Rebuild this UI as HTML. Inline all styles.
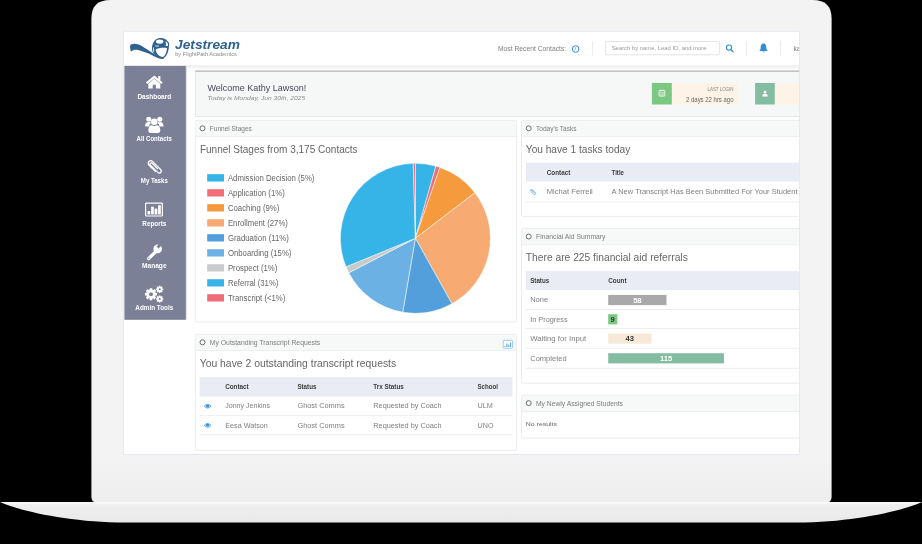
<!DOCTYPE html>
<html>
<head>
<meta charset="utf-8">
<title>Jetstream Dashboard</title>
<style>
html,body{margin:0;padding:0;background:#000;}
body{width:922px;height:544px;overflow:hidden;font-family:"Liberation Sans",sans-serif;}
svg{display:block;will-change:transform;}
text{font-family:"Liberation Sans",sans-serif;}
.b{font-weight:bold;}
.i{font-style:italic;}
</style>
</head>
<body>
<svg width="922" height="544" viewBox="0 0 922 544">
<defs>
<linearGradient id="lidg" x1="0" y1="0" x2="0" y2="1">
<stop offset="0" stop-color="#f3f3f3"/><stop offset="0.9" stop-color="#f3f3f3"/><stop offset="1" stop-color="#eeeeee"/>
</linearGradient>
<linearGradient id="baseg" x1="0" y1="0" x2="0" y2="1">
<stop offset="0" stop-color="#f9f9f9"/><stop offset="0.07" stop-color="#f7f7f7"/><stop offset="0.14" stop-color="#efefef"/><stop offset="1" stop-color="#e9e9e9"/>
</linearGradient>
<linearGradient id="hdsh" x1="0" y1="0" x2="0" y2="1">
<stop offset="0" stop-color="#ececec"/><stop offset="1" stop-color="#ffffff"/>
</linearGradient>
<linearGradient id="sbsh" x1="0" y1="0" x2="1" y2="0"><stop offset="0" stop-color="#c4c6cf"/><stop offset="1" stop-color="#ffffff"/></linearGradient>
<clipPath id="scr"><rect x="123.5" y="31.3" width="676" height="423.3"/></clipPath>
</defs>
<rect width="922" height="544" fill="#000"/>
<!-- laptop lid -->
<path d="M91.4,19 C91.4,6 97.4,0 110.4,0 H812.6 C825.6,0 831.6,6 831.6,19 V497 Q831.6,502.5 826,502.5 H97 Q91.4,502.5 91.4,497 Z" fill="url(#lidg)"/>
<rect x="98" y="500" width="727" height="3.5" fill="#eeeeee"/>
<!-- laptop base -->
<path d="M0,502 H922 C902,511 852,522.5 797,522.5 H125 C70,522.5 20,511 0,502 Z" fill="url(#baseg)"/>
<!-- screen -->
<g clip-path="url(#scr)" id="screen">
<rect x="123" y="31" width="678" height="425" fill="#ffffff"/>
<rect x="123" y="31" width="678" height="34.4" fill="#ffffff"/>
<rect x="186" y="65.4" width="615" height="4.6" fill="url(#hdsh)"/>
<g id="logo" fill="#2e6290">
<path d="M133,43.9 C136.5,43.6 139.5,44.8 142.5,46.5 C146,48.5 148,50 151,52 C154,54 156.5,56 159,57 C160.5,57.6 162,57.9 163.6,57.9 L163.4,58.9 C160,58.9 157,57.7 154,56.2 C150.5,54.4 148,53.1 145,52.3 C142,51.3 139.5,50.1 136.8,49.8 C134.5,49.6 132.5,50.1 131,51.7 C130.2,49 129.8,46.8 130.3,45 C131,44.3 132,44 133,43.9 Z"/>
<path d="M152.1,50 C151.4,44 154.5,38.1 160.5,38 C164,37.9 166.4,39.4 167.6,41.2 C169.2,42.2 169.6,44.6 168.9,46.8 C168.6,52 166.5,57.2 163,58.4 C159,58.7 153.3,56 152.1,50 Z"/>
<ellipse cx="159.7" cy="41.6" rx="3.7" ry="2.2" fill="#fff"/>
<path d="M155.7,49.4 C157.4,47.8 164.6,47.2 166.9,48 C166.9,51.4 165.6,55.4 163.1,56.9 C159.6,56.9 156.1,53.8 155.7,49.4 Z" fill="#fff"/>
<path d="M165.3,41.4 C167,41.3 168.4,43.3 168,46 L165.6,46 C166.2,44.3 166.1,42.7 165.3,41.4 Z" fill="#fff"/>
<path d="M152.9,47.6 L154,47.4 L154.3,52.6 L153.4,52 C153,50.6 152.8,49 152.9,47.6 Z" fill="#fff" opacity="0.8"/>
<rect x="155.2" y="45.3" width="3.8" height="1.5" fill="#a9b5c2"/>
</g>
<text x="175" y="49.3" font-size="12" fill="#2e6290" textLength="65" lengthAdjust="spacingAndGlyphs" class="b i">Jetstream</text>
<text x="175.2" y="56.1" font-size="5.6" fill="#8a8a8a" textLength="61.6" lengthAdjust="spacingAndGlyphs">by FlightPath Academics</text>
<text x="497.9" y="50.7" font-size="6.6" fill="#808080" textLength="68.3" lengthAdjust="spacingAndGlyphs">Most Recent Contacts:</text>
<circle cx="575.6" cy="49" r="3.3" fill="none" stroke="#2f8fd6" stroke-width="1"/>
<path d="M575.6,47.3 V49.2 L574.4,50.1" stroke="#2f8fd6" stroke-width="0.6" fill="none"/>
<rect x="592.2" y="41" width="0.8" height="14.5" fill="#e6e6e6"/>
<rect x="605.4" y="41.5" width="114.2" height="13.3" rx="1.5" fill="#fff" stroke="#d8d8d8" stroke-width="0.7"/>
<text x="611.7" y="50.2" font-size="6" fill="#9a9a9a" textLength="94.8" lengthAdjust="spacingAndGlyphs">Search by name, Lead ID, and more</text>
<circle cx="729" cy="47.6" r="2.6" fill="none" stroke="#2f8fd6" stroke-width="1.1"/>
<path d="M730.9,49.6 L733,51.7" stroke="#2f8fd6" stroke-width="1.3" stroke-linecap="round"/>
<rect x="746" y="41" width="0.8" height="14.5" fill="#e6e6e6"/>
<path d="M763.5,43.6 C765.6,43.6 766.3,45.6 766.3,47.4 C766.3,49.2 767,50.2 767.8,50.9 H759.2 C760,50.2 760.7,49.2 760.7,47.4 C760.7,45.6 761.4,43.6 763.5,43.6 Z M762.5,51.4 H764.5 C764.5,52.6 762.5,52.6 762.5,51.4 Z" fill="#2f8fd6"/>
<rect x="780.2" y="41" width="0.8" height="14.5" fill="#e6e6e6"/>
<text x="793.4" y="50.6" font-size="6.6" fill="#777">kat</text>
<rect x="124.4" y="65.8" width="61.5" height="254" fill="#7b8096"/>
<rect x="185.9" y="65.8" width="1.3" height="254" fill="url(#sbsh)"/>
<g fill="#ffffff">
<path d="M154.3,75.6 L162.7,82.6 L161.4,84.1 L154.3,78.2 L147.2,84.1 L145.9,82.6 Z"/>
<path d="M154.3,78.7 L160.3,83.7 V88.4 H155.9 V84.8 H152.7 V88.4 H148.3 V83.7 Z"/>
<rect x="158.2" y="76.1" width="2.2" height="4.4"/>
</g>
<text x="154.3" y="98.7" font-size="6.6" fill="#ffffff" textLength="33.8" lengthAdjust="spacingAndGlyphs" class="b" text-anchor="middle">Dashboard</text>
<g fill="#ffffff">
<circle cx="148.8" cy="119.2" r="2.5"/><circle cx="159.8" cy="119.2" r="2.5"/>
<path d="M145.1,126.2 C145.1,123 146.3,122 148.9,122 C150,122 150.8,122.3 151.3,122.8 C150,123.6 149.3,125 149.2,126.4 H145.1 Z"/>
<path d="M163.5,126.2 C163.5,123 162.3,122 159.7,122 C158.6,122 157.8,122.3 157.3,122.8 C158.6,123.6 159.3,125 159.4,126.4 H163.5 Z"/>
<circle cx="154.3" cy="121.7" r="3.3"/>
<path d="M148.3,130.6 C148.3,127 149.8,125.3 152,125.3 C152.8,125.8 153.5,126 154.3,126 C155.1,126 155.8,125.8 156.6,125.3 C158.8,125.3 160.3,127 160.3,130.6 C160.3,132.2 159.4,132.9 158.2,132.9 H150.4 C149.2,132.9 148.3,132.2 148.3,130.6 Z"/>
</g>
<text x="154.3" y="141.1" font-size="6.6" fill="#ffffff" textLength="35.4" lengthAdjust="spacingAndGlyphs" class="b" text-anchor="middle">All Contacts</text>
<g fill="none" stroke="#ffffff" stroke-width="1.25" stroke-linecap="round" stroke-linejoin="round">
<path transform="translate(0.3,2.3)" d="M157.2,166.3 L151.9,161 C150.7,159.8 148.9,161.6 150.1,162.8 L157.4,170.1 C159.4,172.1 162.3,169.2 160.3,167.2 L152.4,159.3 C149.8,156.7 146.2,160.3 148.8,162.9 L155,169.1"/>
</g>
<text x="154.3" y="183.3" font-size="6.6" fill="#ffffff" textLength="27" lengthAdjust="spacingAndGlyphs" class="b" text-anchor="middle">My Tasks</text>
<g fill="#ffffff">
<path d="M146.4,202.6 H161.6 Q163,202.6 163,204 V215.2 Q163,216.6 161.6,216.6 H146.4 Q145,216.6 145,215.2 V204 Q145,202.6 146.4,202.6 Z M146.2,203.8 V215.4 H161.8 V203.8 Z" fill-rule="evenodd"/>
<rect x="147.5" y="211" width="2.7" height="3.5"/><rect x="151.1" y="206.6" width="2.7" height="7.9"/><rect x="154.6" y="208.6" width="2.7" height="5.9"/><rect x="158.1" y="205.2" width="2.7" height="9.3"/>
</g>
<text x="154.3" y="225.6" font-size="6.6" fill="#ffffff" textLength="24" lengthAdjust="spacingAndGlyphs" class="b" text-anchor="middle">Reports</text>
<g>
<path d="M156.2,251.2 L148.6,258.6" stroke="#ffffff" stroke-width="3.3" stroke-linecap="round"/>
<circle cx="157.7" cy="248.9" r="4.3" fill="#ffffff"/>
<path d="M158.6,248.4 L162.6,244.2 L160.2,242.4 L156.6,246.6 Z" fill="#7b8096"/>
<path d="M162.9,246.2 L161.2,248 L163.4,249.6 Z" fill="#7b8096" opacity="0.5"/>
<circle cx="148.9" cy="258.3" r="0.75" fill="#7b8096"/>
</g>
<text x="154.3" y="267.8" font-size="6.6" fill="#ffffff" textLength="24.5" lengthAdjust="spacingAndGlyphs" class="b" text-anchor="middle">Manage</text>
<g fill="#ffffff">
<path d="M157.06,292.90 L157.06,295.50 L155.50,295.55 L155.14,296.43 L156.21,297.56 L154.36,299.41 L153.23,298.34 L152.35,298.70 L152.30,300.26 L149.70,300.26 L149.65,298.70 L148.77,298.34 L147.64,299.41 L145.79,297.56 L146.86,296.43 L146.50,295.55 L144.94,295.50 L144.94,292.90 L146.50,292.85 L146.86,291.97 L145.79,290.84 L147.64,288.99 L148.77,290.06 L149.65,289.70 L149.70,288.14 L152.30,288.14 L152.35,289.70 L153.23,290.06 L154.36,288.99 L156.21,290.84 L155.14,291.97 L155.50,292.85 Z M153.00,294.20 A2.0,2.0 0 1,0 149.00,294.20 A2.0,2.0 0 1,0 153.00,294.20 Z" fill-rule="evenodd"/>
<path d="M163.32,288.52 L163.32,290.08 L162.29,290.07 L162.08,290.58 L162.81,291.31 L161.71,292.41 L160.98,291.68 L160.47,291.89 L160.48,292.92 L158.92,292.92 L158.93,291.89 L158.42,291.68 L157.69,292.41 L156.59,291.31 L157.32,290.58 L157.11,290.07 L156.08,290.08 L156.08,288.52 L157.11,288.53 L157.32,288.02 L156.59,287.29 L157.69,286.19 L158.42,286.92 L158.93,286.71 L158.92,285.68 L160.48,285.68 L160.47,286.71 L160.98,286.92 L161.71,286.19 L162.81,287.29 L162.08,288.02 L162.29,288.53 Z M160.70,289.30 A1.0,1.0 0 1,0 158.70,289.30 A1.0,1.0 0 1,0 160.70,289.30 Z" fill-rule="evenodd"/>
<path d="M163.32,298.22 L163.32,299.78 L162.29,299.77 L162.08,300.28 L162.81,301.01 L161.71,302.11 L160.98,301.38 L160.47,301.59 L160.48,302.62 L158.92,302.62 L158.93,301.59 L158.42,301.38 L157.69,302.11 L156.59,301.01 L157.32,300.28 L157.11,299.77 L156.08,299.78 L156.08,298.22 L157.11,298.23 L157.32,297.72 L156.59,296.99 L157.69,295.89 L158.42,296.62 L158.93,296.41 L158.92,295.38 L160.48,295.38 L160.47,296.41 L160.98,296.62 L161.71,295.89 L162.81,296.99 L162.08,297.72 L162.29,298.23 Z M160.70,299.00 A1.0,1.0 0 1,0 158.70,299.00 A1.0,1.0 0 1,0 160.70,299.00 Z" fill-rule="evenodd"/>
</g>
<text x="154.3" y="310" font-size="6.6" fill="#ffffff" textLength="38" lengthAdjust="spacingAndGlyphs" class="b" text-anchor="middle">Admin Tools</text>
<rect x="195.2" y="70.4" width="620" height="46.2" fill="#f6f8f8"/>
<rect x="195.2" y="70.4" width="620" height="1.5" fill="#bdbfc0"/>
<rect x="195.2" y="71.9" width="0.8" height="44.7" fill="#e2e4e4"/>
<rect x="195.2" y="116" width="620" height="0.8" fill="#e0e2e2"/>
<text x="207.4" y="90.8" font-size="8.2" fill="#45475b" textLength="98.8" lengthAdjust="spacingAndGlyphs">Welcome Kathy Lawson!</text>
<text x="207.6" y="100" font-size="6" fill="#8a8a8a" textLength="97.5" lengthAdjust="spacingAndGlyphs" class="i">Today is Monday, Jun 30th, 2025</text>
<rect x="651.9" y="83" width="20" height="21.5" fill="#7bc883"/>
<rect x="671.9" y="83" width="66.2" height="21.5" fill="#fdf3e6"/>
<g><rect x="659" y="90.5" width="5.8" height="5.6" rx="0.6" fill="none" stroke="#fff" stroke-width="0.8"/><path d="M659,92.3 H664.8 M661,92.3 V96 M662.9,92.3 V96 M659,94.2 H664.8" stroke="#fff" stroke-width="0.4"/><path d="M660.4,89.7 V91 M663.4,89.7 V91" stroke="#fff" stroke-width="0.7"/></g>
<text x="733.5" y="90.7" font-size="5" fill="#858585" textLength="26" lengthAdjust="spacingAndGlyphs" text-anchor="end">LAST LOGIN</text>
<text x="733.5" y="102.4" font-size="6.8" fill="#666" textLength="47.5" lengthAdjust="spacingAndGlyphs" text-anchor="end">2 days 22 hrs ago</text>
<rect x="755.1" y="83" width="19.8" height="21.5" fill="#84bca2"/>
<rect x="774.9" y="83" width="40" height="21.5" fill="#fdf3e6"/>
<g fill="#fff"><circle cx="765" cy="92" r="1.5"/><path d="M762.3,96.6 C762.3,94.4 763.3,93.7 765,93.7 C766.7,93.7 767.7,94.4 767.7,96.6 Z"/></g>
<rect x="195.3" y="120.4" width="321.3" height="201.7" rx="1.2" fill="#fff" stroke="#e4e6e6" stroke-width="0.8"/>
<rect x="195.7" y="120.8" width="320.5" height="15.4" fill="#f7f8f8"/>
<rect x="195.7" y="136.2" width="320.5" height="0.7" fill="#e7e9e9"/>
<circle cx="202.5" cy="128.3" r="2.5" fill="none" stroke="#666" stroke-width="0.95"/>
<text x="209.8" y="130.8" font-size="6.3" fill="#7c7c7c" textLength="42" lengthAdjust="spacingAndGlyphs">Funnel Stages</text>
<text x="199.9" y="153" font-size="10.3" fill="#666" textLength="157.7" lengthAdjust="spacingAndGlyphs">Funnel Stages from 3,175 Contacts</text>
<rect x="207.2" y="174.2" width="16.8" height="7.3" fill="#36b3e7"/>
<text x="227.9" y="180.5" font-size="8.3" fill="#666" textLength="86.5" lengthAdjust="spacingAndGlyphs">Admission Decision (5%)</text>
<rect x="207.2" y="189.2" width="16.8" height="7.3" fill="#f06d77"/>
<text x="227.9" y="195.5" font-size="8.3" fill="#666" textLength="57" lengthAdjust="spacingAndGlyphs">Application (1%)</text>
<rect x="207.2" y="204.2" width="16.8" height="7.3" fill="#f59b3d"/>
<text x="227.9" y="210.5" font-size="8.3" fill="#666" textLength="51.5" lengthAdjust="spacingAndGlyphs">Coaching (9%)</text>
<rect x="207.2" y="219.2" width="16.8" height="7.3" fill="#f8aa73"/>
<text x="227.9" y="225.5" font-size="8.3" fill="#666" textLength="60" lengthAdjust="spacingAndGlyphs">Enrollment (27%)</text>
<rect x="207.2" y="234.2" width="16.8" height="7.3" fill="#529fdc"/>
<text x="227.9" y="240.5" font-size="8.3" fill="#666" textLength="61" lengthAdjust="spacingAndGlyphs">Graduation (11%)</text>
<rect x="207.2" y="249.2" width="16.8" height="7.3" fill="#6cb1e3"/>
<text x="227.9" y="255.5" font-size="8.3" fill="#666" textLength="63.5" lengthAdjust="spacingAndGlyphs">Onboarding (15%)</text>
<rect x="207.2" y="264.2" width="16.8" height="7.3" fill="#c9cacb"/>
<text x="227.9" y="270.5" font-size="8.3" fill="#666" textLength="49.5" lengthAdjust="spacingAndGlyphs">Prospect (1%)</text>
<rect x="207.2" y="279.2" width="16.8" height="7.3" fill="#36b3e7"/>
<text x="227.9" y="285.5" font-size="8.3" fill="#666" textLength="50.5" lengthAdjust="spacingAndGlyphs">Referral (31%)</text>
<rect x="207.2" y="294.2" width="16.8" height="7.3" fill="#f06d77"/>
<text x="227.9" y="300.5" font-size="8.3" fill="#666" textLength="57.5" lengthAdjust="spacingAndGlyphs">Transcript (&lt;1%)</text>
<path d="M415.4,238.3 L415.40,163.30 A75,75 0 0,1 435.87,166.15 Z" fill="#36b3e7" stroke="#fff" stroke-width="0.5" stroke-linejoin="round"/>
<path d="M415.4,238.3 L435.87,166.15 A75,75 0 0,1 439.92,167.42 Z" fill="#f06d77" stroke="#fff" stroke-width="0.5" stroke-linejoin="round"/>
<path d="M415.4,238.3 L439.92,167.42 A75,75 0 0,1 474.95,192.71 Z" fill="#f59b3d" stroke="#fff" stroke-width="0.5" stroke-linejoin="round"/>
<path d="M415.4,238.3 L474.95,192.71 A75,75 0 0,1 451.94,303.79 Z" fill="#f8aa73" stroke="#fff" stroke-width="0.5" stroke-linejoin="round"/>
<path d="M415.4,238.3 L451.94,303.79 A75,75 0 0,1 402.74,312.22 Z" fill="#529fdc" stroke="#fff" stroke-width="0.5" stroke-linejoin="round"/>
<path d="M415.4,238.3 L402.74,312.22 A75,75 0 0,1 348.79,272.77 Z" fill="#6cb1e3" stroke="#fff" stroke-width="0.5" stroke-linejoin="round"/>
<path d="M415.4,238.3 L348.79,272.77 A75,75 0 0,1 346.02,266.78 Z" fill="#c9cacb" stroke="#fff" stroke-width="0.5" stroke-linejoin="round"/>
<path d="M415.4,238.3 L346.02,266.78 A75,75 0 0,1 413.28,163.33 Z" fill="#36b3e7" stroke="#fff" stroke-width="0.5" stroke-linejoin="round"/>
<path d="M415.4,238.3 L413.28,163.33 A75,75 0 0,1 415.40,163.30 Z" fill="#f06d77" stroke="#fff" stroke-width="0.5" stroke-linejoin="round"/>
<rect x="195.3" y="334.4" width="321.3" height="116" rx="1.2" fill="#fff" stroke="#e4e6e6" stroke-width="0.8"/>
<rect x="195.7" y="334.8" width="320.5" height="15.4" fill="#f7f8f8"/>
<rect x="195.7" y="350.2" width="320.5" height="0.7" fill="#e7e9e9"/>
<circle cx="202.5" cy="342.3" r="2.5" fill="none" stroke="#666" stroke-width="0.95"/>
<text x="209.8" y="344.8" font-size="6.3" fill="#7c7c7c" textLength="110.5" lengthAdjust="spacingAndGlyphs">My Outstanding Transcript Requests</text>
<g><rect x="503.2" y="340.3" width="9.4" height="8" rx="0.9" fill="#fff" stroke="#8ec4ee" stroke-width="0.9"/><path d="M505,347 V346 M506.9,347 V343.6 M508.8,347 V344.8 M510.7,347 V342.4" stroke="#4a9fe0" stroke-width="1.05"/></g>
<text x="199.7" y="367" font-size="10.3" fill="#666" textLength="196.5" lengthAdjust="spacingAndGlyphs">You have 2 outstanding transcript requests</text>
<rect x="199.6" y="377.1" width="312.9" height="19.4" fill="#e9ecf4"/>
<text x="225.2" y="389" font-size="6.5" fill="#3c3c3c" textLength="23.5" lengthAdjust="spacingAndGlyphs" class="b">Contact</text>
<text x="297.4" y="389" font-size="6.5" fill="#3c3c3c" textLength="19" lengthAdjust="spacingAndGlyphs" class="b">Status</text>
<text x="373.3" y="389" font-size="6.5" fill="#3c3c3c" textLength="30.5" lengthAdjust="spacingAndGlyphs" class="b">Trx Status</text>
<text x="477.5" y="389" font-size="6.5" fill="#3c3c3c" textLength="20.5" lengthAdjust="spacingAndGlyphs" class="b">School</text>
<text x="225.2" y="408.3" font-size="6.6" fill="#808080" textLength="44.8" lengthAdjust="spacingAndGlyphs">Jonny Jenkins</text>
<text x="297.4" y="408.3" font-size="6.6" fill="#808080" textLength="47.2" lengthAdjust="spacingAndGlyphs">Ghost Comms</text>
<text x="373.3" y="408.3" font-size="6.6" fill="#808080" textLength="68.3" lengthAdjust="spacingAndGlyphs">Requested by Coach</text>
<text x="477.5" y="408.3" font-size="6.6" fill="#808080" textLength="15.3" lengthAdjust="spacingAndGlyphs">ULM</text>
<g><path d="M204.2,406.2 Q207.6,402.3 211,406.2 Q207.6,410.1 204.2,406.2 Z" fill="#d5e8f8" stroke="#4c9fde" stroke-width="0.75"/><ellipse cx="207.6" cy="405.9" rx="1.7" ry="1.5" fill="#3a94d9"/></g>
<text x="225.2" y="427.5" font-size="6.6" fill="#808080" textLength="42.7" lengthAdjust="spacingAndGlyphs">Eesa Watson</text>
<text x="297.4" y="427.5" font-size="6.6" fill="#808080" textLength="47.2" lengthAdjust="spacingAndGlyphs">Ghost Comms</text>
<text x="373.3" y="427.5" font-size="6.6" fill="#808080" textLength="68.3" lengthAdjust="spacingAndGlyphs">Requested by Coach</text>
<text x="477.5" y="427.5" font-size="6.6" fill="#808080" textLength="16" lengthAdjust="spacingAndGlyphs">UNO</text>
<g><path d="M204.2,425.4 Q207.6,421.5 211,425.4 Q207.6,429.3 204.2,425.4 Z" fill="#d5e8f8" stroke="#4c9fde" stroke-width="0.75"/><ellipse cx="207.6" cy="425.1" rx="1.7" ry="1.5" fill="#3a94d9"/></g>
<rect x="199.6" y="415.4" width="312.9" height="0.7" fill="#e6e6e6"/>
<rect x="199.6" y="434.5" width="312.9" height="0.7" fill="#e6e6e6"/>
<rect x="521.5" y="120.4" width="300" height="96" rx="1.2" fill="#fff" stroke="#e4e6e6" stroke-width="0.8"/>
<rect x="521.9" y="120.8" width="299.2" height="15.4" fill="#f7f8f8"/>
<rect x="521.9" y="136.2" width="299.2" height="0.7" fill="#e7e9e9"/>
<circle cx="528.7" cy="128.3" r="2.5" fill="none" stroke="#666" stroke-width="0.95"/>
<text x="536.0" y="130.8" font-size="6.3" fill="#7c7c7c" textLength="40.5" lengthAdjust="spacingAndGlyphs">Today&#39;s Tasks</text>
<text x="525.8" y="153" font-size="10.3" fill="#666" textLength="104.5" lengthAdjust="spacingAndGlyphs">You have 1 tasks today</text>
<rect x="525.8" y="162.7" width="300" height="18.9" fill="#e9ecf4"/>
<text x="546.8" y="174.5" font-size="6.5" fill="#3c3c3c" textLength="23.5" lengthAdjust="spacingAndGlyphs" class="b">Contact</text>
<text x="611.5" y="174.5" font-size="6.5" fill="#3c3c3c" textLength="12.5" lengthAdjust="spacingAndGlyphs" class="b">Title</text>
<text x="546.8" y="193.6" font-size="6.6" fill="#808080" textLength="46" lengthAdjust="spacingAndGlyphs">Michat Ferrell</text>
<text x="611.5" y="193.6" font-size="6.6" fill="#808080" textLength="186" lengthAdjust="spacingAndGlyphs">A New Transcript Has Been Submitted For Your Student</text>
<path d="M534.2,192.6 L531.6,190 C530.9,189.3 529.9,190.3 530.6,191 L533.8,194.2 C534.9,195.3 536.4,193.8 535.3,192.7 L532,189.4" fill="none" stroke="#3a94d9" stroke-width="0.7" stroke-linecap="round"/>
<rect x="525.8" y="201.6" width="300" height="0.7" fill="#e6e6e6"/>
<rect x="521.5" y="228.6" width="300" height="154.6" rx="1.2" fill="#fff" stroke="#e4e6e6" stroke-width="0.8"/>
<rect x="521.9" y="229.0" width="299.2" height="15.4" fill="#f7f8f8"/>
<rect x="521.9" y="244.4" width="299.2" height="0.7" fill="#e7e9e9"/>
<circle cx="528.7" cy="236.5" r="2.5" fill="none" stroke="#666" stroke-width="0.95"/>
<text x="536.0" y="239.0" font-size="6.3" fill="#7c7c7c" textLength="69.5" lengthAdjust="spacingAndGlyphs">Financial Aid Summary</text>
<text x="525.8" y="261" font-size="10.3" fill="#666" textLength="162" lengthAdjust="spacingAndGlyphs">There are 225 financial aid referrals</text>
<rect x="525.8" y="271.1" width="300" height="18.9" fill="#e9ecf4"/>
<text x="530.2" y="283" font-size="6.5" fill="#3c3c3c" textLength="19" lengthAdjust="spacingAndGlyphs" class="b">Status</text>
<text x="608.3" y="283" font-size="6.5" fill="#3c3c3c" textLength="18.3" lengthAdjust="spacingAndGlyphs" class="b">Count</text>
<text x="530.2" y="302.3" font-size="6.6" fill="#808080" textLength="18" lengthAdjust="spacingAndGlyphs">None</text>
<rect x="608.2" y="294.9" width="58.3" height="10.2" fill="#a9a9a9"/>
<text x="637.37" y="302.7" font-size="7.6" fill="#fff" class="b" text-anchor="middle">58</text>
<rect x="525.8" y="309.15" width="300" height="0.7" fill="#e6e6e6"/>
<text x="530.2" y="321.6" font-size="6.6" fill="#808080" textLength="37.5" lengthAdjust="spacingAndGlyphs">In Progress</text>
<rect x="608.2" y="314.2" width="9.1" height="10.2" fill="#7bc883"/>
<text x="612.73" y="322.0" font-size="7.6" fill="#333" class="b" text-anchor="middle">9</text>
<rect x="525.8" y="328.05" width="300" height="0.7" fill="#e6e6e6"/>
<text x="530.2" y="340.9" font-size="6.6" fill="#808080" textLength="56" lengthAdjust="spacingAndGlyphs">Waiting for Input</text>
<rect x="608.2" y="333.5" width="43.3" height="10.2" fill="#f6e9d7"/>
<text x="629.83" y="341.3" font-size="7.6" fill="#333" class="b" text-anchor="middle">43</text>
<rect x="525.8" y="347.85" width="300" height="0.7" fill="#e6e6e6"/>
<text x="530.2" y="360.6" font-size="6.6" fill="#808080" textLength="36.5" lengthAdjust="spacingAndGlyphs">Completed</text>
<rect x="608.2" y="353.2" width="115.7" height="10.2" fill="#84bca2"/>
<text x="666.05" y="361.0" font-size="7.6" fill="#fff" class="b" text-anchor="middle">115</text>
<rect x="525.8" y="367.85" width="300" height="0.7" fill="#e6e6e6"/>
<rect x="521.5" y="395.2" width="300" height="42.9" rx="1.2" fill="#fff" stroke="#e4e6e6" stroke-width="0.8"/>
<rect x="521.9" y="395.6" width="299.2" height="15.4" fill="#f7f8f8"/>
<rect x="521.9" y="411.0" width="299.2" height="0.7" fill="#e7e9e9"/>
<circle cx="528.7" cy="403.1" r="2.5" fill="none" stroke="#666" stroke-width="0.95"/>
<text x="536.0" y="405.6" font-size="6.3" fill="#7c7c7c" textLength="87" lengthAdjust="spacingAndGlyphs">My Newly Assigned Students</text>
<text x="525.8" y="425.6" font-size="6.2" fill="#666" textLength="31.2" lengthAdjust="spacingAndGlyphs">No results</text>
</g>
<rect x="123.5" y="31.3" width="676" height="423.3" fill="none" stroke="#e4e5ee" stroke-width="0.8"/>
</svg>
</body>
</html>
